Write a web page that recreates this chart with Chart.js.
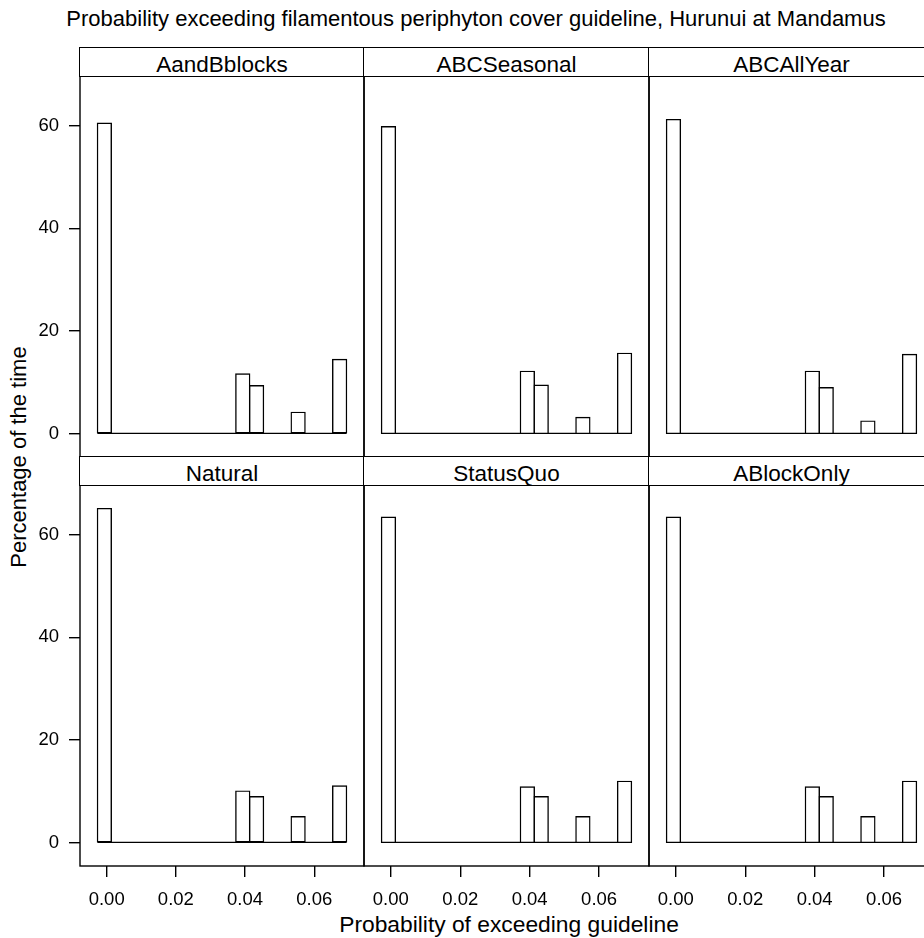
<!DOCTYPE html>
<html>
<head>
<meta charset="utf-8">
<script src="https://cdn.jsdelivr.net/npm/chart.js@4.4.1/dist/chart.umd.min.js"></script>
<style>
html, body { margin: 0; padding: 0; background: #fff; overflow: hidden; }
#page { position: relative; width: 924px; height: 938px; overflow: hidden; background: #fff;
  font-family: 'Liberation Sans', Arial, sans-serif; color: #000; }
canvas { position: absolute; }
.strip { position: absolute; box-sizing: border-box; border: 1.4px solid #000; background: #fff; }
.strip span { position: absolute; left: 0; right: 0; top: 6px; font-size: 22.5px; line-height: 22px;
  text-align: center; white-space: nowrap; }
#title { position: absolute; left: 0; width: 952px; top: 8px; font-size: 22px; line-height: 22px;
  text-align: center; white-space: nowrap; }
#xlab { position: absolute; left: 209px; width: 600px; top: 913px; font-size: 22.8px; line-height: 22px;
  text-align: center; white-space: nowrap; }
#ylab { position: absolute; left: -131px; width: 300px; top: 446px; font-size: 22px; line-height: 22px;
  text-align: center; white-space: nowrap; transform: rotate(-90deg); }
</style>
</head>
<body>
<div id="page">
  <div id="title">Probability exceeding filamentous periphyton cover guideline, Hurunui at Mandamus</div>
  <div id="xlab">Probability of exceeding guideline</div>
  <div id="ylab">Percentage of the time</div>
</div>
<script>
// histogram bins (edges) shared by all panels
const breaks = [-0.00267, 0.00133, 0.00533, 0.00933, 0.01333, 0.01733, 0.02133, 0.02533, 0.02933, 0.03333,
  0.03733, 0.04133, 0.04533, 0.04933, 0.05333, 0.05733, 0.06133, 0.06533, 0.06933]

// percentage of the time in each bin
const AandBblocks = [60.5, 0, 0, 0, 0, 0, 0, 0, 0, 0, 11.6, 9.3, 0, 0, 4.1, 0, 0, 14.4]
const ABCSeasonal = [59.8, 0, 0, 0, 0, 0, 0, 0, 0, 0, 12.1, 9.4, 0, 0, 3.1, 0, 0, 15.6]
const ABCAllYear  = [61.2, 0, 0, 0, 0, 0, 0, 0, 0, 0, 12.1, 8.9, 0, 0, 2.4, 0, 0, 15.4]
const Natural     = [65.1, 0, 0, 0, 0, 0, 0, 0, 0, 0, 10.0, 8.9, 0, 0, 5.0, 0, 0, 11.0]
const StatusQuo   = [63.4, 0, 0, 0, 0, 0, 0, 0, 0, 0, 10.8, 8.9, 0, 0, 5.0, 0, 0, 11.9]
const ABlockOnly  = [63.4, 0, 0, 0, 0, 0, 0, 0, 0, 0, 10.8, 8.9, 0, 0, 5.0, 0, 0, 11.9]

const panelNames = ['AandBblocks', 'ABCSeasonal', 'ABCAllYear', 'Natural', 'StatusQuo', 'ABlockOnly']
const panelData = [AandBblocks, ABCSeasonal, ABCAllYear, Natural, StatusQuo, ABlockOnly]

const xTicks = [0, 0.02, 0.04, 0.06]
const yTicks = [0, 20, 40, 60]
const yMin = -4.6, yMax = 69.7

// lattice-like limits: break range extended by 7%
const span = breaks[breaks.length - 1] - breaks[0]
const xMin = breaks[0] - 0.07 * span
const xMax = breaks[breaks.length - 1] + 0.07 * span

// page layout
const colLeft = [80, 364, 649], colRight = [364, 649, 934]
const rowTop = [48, 457], rowBottom = [457, 866]
const stripH = 28
const axisW = 80, axisH = 60, pad = 4
const LW = 1.4
Chart.defaults.font.family = "'Liberation Sans', Arial, sans-serif"
Chart.defaults.color = '#000'

const frame = {
  id: 'frame',
  afterDraw(chart) {
    const { ctx, chartArea: a } = chart
    ctx.save()
    ctx.strokeStyle = '#000'
    ctx.lineWidth = LW
    ctx.strokeRect(a.left, a.top, a.right - a.left, a.bottom - a.top)
    ctx.restore()
  }
}

const page = document.getElementById('page')

panelNames.forEach(function (name, k) {
  const c = k % 3, r = Math.floor(k / 3)
  const showY = c == 0, showX = r == 1
  const plotTop = rowTop[r] + stripH
  const w = colRight[c] - colLeft[c], h = rowBottom[r] - plotTop

  const cv = document.createElement('canvas')
  cv.width = w + axisW + pad
  cv.height = h + axisH + pad
  cv.style.left = (colLeft[c] - axisW) + 'px'
  cv.style.top = (plotTop - pad) + 'px'
  page.appendChild(cv)

  const strip = document.createElement('div')
  strip.className = 'strip'
  strip.style.left = (colLeft[c] - 0.7) + 'px'
  strip.style.top = (rowTop[r] - 0.7) + 'px'
  strip.style.width = (w + 1.4) + 'px'
  strip.style.height = (stripH + 1.4) + 'px'
  strip.innerHTML = '<span>' + name + '</span>'
  page.appendChild(strip)

  const pct = panelData[k]
  const bars = pct.map((v, i) => ({ x: (breaks[i] + breaks[i + 1]) / 2, y: v }))

  new Chart(cv, {
    type: 'bar',
    data: {
      datasets: [{
        type: 'bar',
        data: bars,
        backgroundColor: '#fff',
        borderColor: '#000',
        borderWidth: LW,
        inflateAmount: LW / 2,
        borderSkipped: false,
        categoryPercentage: 1,
        barPercentage: 1,
        order: 1
      }, {
        type: 'line',
        data: [{ x: breaks[0], y: 0 }, { x: breaks[breaks.length - 1], y: 0 }],
        borderColor: '#000',
        borderWidth: LW,
        pointRadius: 0,
        fill: false,
        order: 2
      }]
    },
    options: {
      responsive: false,
      animation: false,
      events: [],
      layout: { padding: { top: pad, right: pad, left: 0, bottom: 0 }, autoPadding: false },
      plugins: { legend: { display: false }, tooltip: { enabled: false } },
      scales: {
        x: {
          type: 'linear', min: xMin, max: xMax, offset: false,
          afterBuildTicks: s => { s.ticks = xTicks.map(v => ({ value: v })) },
          afterFit: s => { s.height = axisH; s.paddingLeft = 0; s.paddingRight = 0 },
          grid: { display: showX, drawOnChartArea: false, drawTicks: showX, tickLength: 11,
            color: '#000', lineWidth: LW, offset: false },
          border: { display: false },
          ticks: { display: showX, padding: 12, color: '#000', font: { size: 18.5 },
            maxRotation: 0, autoSkip: false, callback: v => v.toFixed(2) }
        },
        y: {
          type: 'linear', min: yMin, max: yMax,
          afterBuildTicks: s => { s.ticks = yTicks.map(v => ({ value: v })) },
          afterFit: s => { s.width = axisW; s.paddingTop = 0; s.paddingBottom = 0 },
          grid: { display: showY, drawOnChartArea: false, drawTicks: showY, tickLength: 11,
            color: '#000', lineWidth: LW },
          border: { display: false },
          ticks: { display: showY, padding: 10, color: '#000', font: { size: 18.5 },
            autoSkip: false, callback: v => String(v) }
        }
      }
    },
    plugins: [frame]
  })
})
</script>
</body>
</html>
